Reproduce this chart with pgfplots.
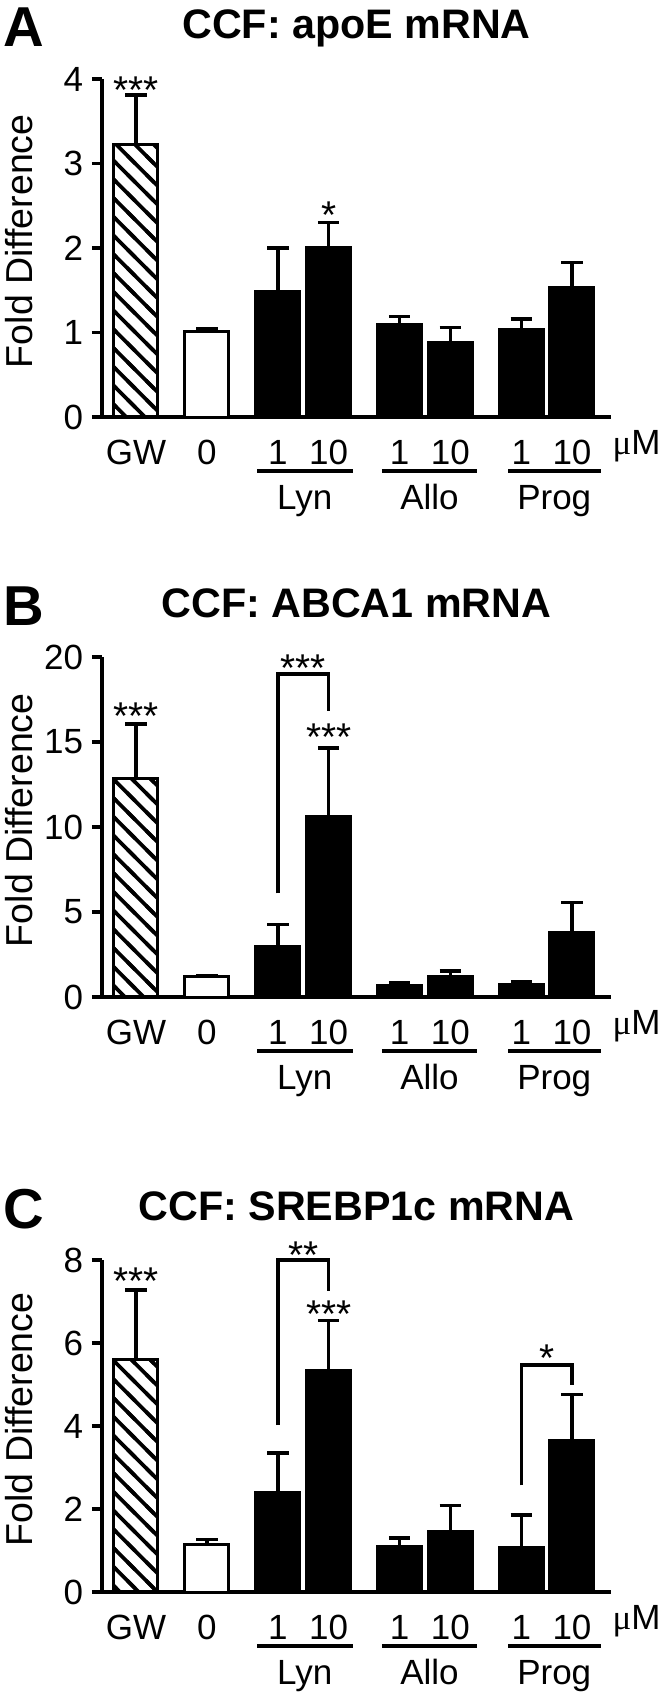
\documentclass[border=0pt]{standalone}
\usepackage{graphicx}
\usepackage{pgfplots}
\usepackage{pgfplotstable}
\pgfplotsset{compat=1.18}
\usetikzlibrary{patterns}
\usepackage{fontspec}
\setmainfont{Liberation Sans}
\newfontfamily\seriffont{Liberation Serif}

\pgfdeclarepatternformonly{thicknw}{\pgfqpoint{-2pt}{-2pt}}{\pgfqpoint{9.5pt}{9.5pt}}{\pgfqpoint{7.5pt}{7.5pt}}{%
  \pgfsetlinewidth{1.5pt}%
  \pgfpathmoveto{\pgfqpoint{-2pt}{9.5pt}}%
  \pgfpathlineto{\pgfqpoint{9.5pt}{-2pt}}%
  \pgfusepath{stroke}}

% x: GW=0, 0 uM=1.4, Lyn 1/10=2.8/3.8, Allo 1/10=5.2/6.2, Prog 1/10=7.6/8.6
\pgfplotstableread{
x y e
0 3.23 0.58
1.4 1.01 0.03
2.8 1.48 0.52
3.8 2.01 0.29
5.2 1.09 0.10
6.2 0.88 0.18
7.6 1.04 0.12
8.6 1.53 0.30
}\dataA
\pgfplotstableread{
x y e
0 12.85 3.20
1.4 1.18 0.10
2.8 2.97 1.31
3.8 10.60 4.06
5.2 0.65 0.21
6.2 1.20 0.34
7.6 0.72 0.19
8.6 3.82 1.73
}\dataB
\pgfplotstableread{
x y e
0 5.60 1.68
1.4 1.15 0.11
2.8 2.41 0.94
3.8 5.35 1.19
5.2 1.10 0.20
6.2 1.47 0.62
7.6 1.08 0.78
8.6 3.64 1.12
}\dataC

\newcommand{\lbl}{\fontsize{14}{14}\selectfont}
\newcommand{\starfont}{\fontsize{15.5}{15.5}\selectfont}
\newcommand{\ttl}{\fontsize{16.5}{16.5}\selectfont\bfseries}
\newcommand{\letterfont}{\fontsize{22.5}{22.5}\selectfont\bfseries}

\pgfplotsset{
  panel/.style={
    scale only axis, width=203.6pt,
    xmin=-0.67, xmax=9.37, ymin=0,
    axis lines=left,
    axis line style={-, line width=1.4pt},
    x axis line style={-}, y axis line style={-},
    xtick={0,1.4,2.8,3.8,5.2,6.2,7.6,8.6},
    xticklabels={GW,0,1,10,1,10,1,10},
    x tick style={draw=none},
    xticklabel style={anchor=base, yshift=-14.8pt, font=\lbl},
    yticklabel style={font=\lbl},
    tick align=outside,
    major tick length=4pt,
    y tick style={line width=1.4pt, black},
    /pgf/number format/assume math mode=true,
    clip=false,
    every axis plot/.append style={
      ybar, bar width=17.6pt, draw=black, line width=1.2pt,
      error bars/y dir=plus, error bars/y explicit,
      error bars/error bar style={line width=1.4pt, black},
      error bars/error mark options={rotate=90, line width=1.4pt, mark size=4.3pt, black},
    },
  },
  hatchbar/.style={pattern=thicknw},
}

\newcommand{\groups}{%
  \node[anchor=base west, font=\lbl, inner sep=0pt] at ([yshift=-14.8pt]axis cs:9.39,0) {{\seriffont μ}M};
  \draw[line width=1.7pt] ([yshift=-21.6pt]axis cs:2.39,0) -- ([yshift=-21.6pt]axis cs:4.28,0);
  \draw[line width=1.7pt] ([yshift=-21.6pt]axis cs:4.85,0) -- ([yshift=-21.6pt]axis cs:6.73,0);
  \draw[line width=1.7pt] ([yshift=-21.6pt]axis cs:7.34,0) -- ([yshift=-21.6pt]axis cs:9.17,0);
  \node[anchor=base, font=\lbl] at ([yshift=-36.8pt]axis cs:3.33,0) {Lyn};
  \node[anchor=base, font=\lbl] at ([yshift=-36.8pt]axis cs:5.79,0) {Allo};
  \node[anchor=base, font=\lbl] at ([yshift=-36.8pt]axis cs:8.25,0) {Prog};
  \node[rotate=90, font=\fontsize{15}{15}\selectfont] at ([xshift=-33pt]rel axis cs:0,0.52) {Fold Difference};
}
\newcommand{\stars}[3]{\node[anchor=base, font=\starfont, inner sep=0pt] at ([yshift=-8.8pt]axis cs:#1,#2) {#3};}
\newcommand{\heading}[2]{%
  \node[anchor=base, font=\ttl] at ([yshift=16pt]rel axis cs:0.5,1) {#1};
  \node[anchor=base west, font=\letterfont, inner sep=0pt] at ([xshift=-39.6pt,yshift=12.8pt]rel axis cs:0,1) {#2};
}

\begin{document}
\begin{tikzpicture}
\path[use as bounding box] (0,0) rectangle (265.6pt,-678.8pt);

% ---------- A ----------
\begin{axis}[panel, at={(40.8pt,-166.8pt)}, anchor=south west, height=135.2pt,
  ymax=4, ytick={0,1,2,3,4}]
\addplot[hatchbar, skip coords between index={1}{8}] table[x=x,y=y,y error=e]{\dataA};
\addplot[fill=white, skip coords between index={0}{1}, skip coords between index={2}{8}] table[x=x,y=y,y error=e]{\dataA};
\addplot[fill=black, skip coords between index={0}{2}] table[x=x,y=y,y error=e]{\dataA};
\groups
\stars{0}{3.97}{***}
\stars{3.8}{2.49}{*}
\heading{CCF: apoE mRNA}{A}
\end{axis}

% ---------- B ----------
\begin{axis}[panel, at={(40.8pt,-398.8pt)}, anchor=south west, height=136pt,
  ymax=20, ytick={0,5,10,15,20}]
\addplot[hatchbar, skip coords between index={1}{8}] table[x=x,y=y,y error=e]{\dataB};
\addplot[fill=white, skip coords between index={0}{1}, skip coords between index={2}{8}] table[x=x,y=y,y error=e]{\dataB};
\addplot[fill=black, skip coords between index={0}{2}] table[x=x,y=y,y error=e]{\dataB};
\groups
\draw[line width=1.4pt] (axis cs:2.8,6.1) -- (axis cs:2.8,19.0) -- (axis cs:3.8,19.0) -- (axis cs:3.8,16.8);
\stars{3.3}{19.83}{***}
\stars{0}{17.05}{***}
\stars{3.8}{15.78}{***}
\heading{CCF: ABCA1 mRNA}{B}
\end{axis}

% ---------- C ----------
\begin{axis}[panel, at={(40.8pt,-636.8pt)}, anchor=south west, height=132.8pt,
  ymax=8, ytick={0,2,4,6,8}]
\addplot[hatchbar, skip coords between index={1}{8}] table[x=x,y=y,y error=e]{\dataC};
\addplot[fill=white, skip coords between index={0}{1}, skip coords between index={2}{8}] table[x=x,y=y,y error=e]{\dataC};
\addplot[fill=black, skip coords between index={0}{2}] table[x=x,y=y,y error=e]{\dataC};
\groups
\draw[line width=1.4pt] (axis cs:2.8,4.02) -- (axis cs:2.8,8.0) -- (axis cs:3.8,8.0) -- (axis cs:3.8,7.25);
\draw[line width=1.4pt] (axis cs:7.6,2.57) -- (axis cs:7.6,5.47) -- (axis cs:8.6,5.47) -- (axis cs:8.6,5.0);
\stars{3.3}{8.33}{**}
\stars{0}{7.70}{***}
\stars{3.8}{6.90}{***}
\stars{8.1}{5.84}{*}
\heading{CCF: SREBP1c mRNA}{C}
\end{axis}
\end{tikzpicture}
\end{document}
